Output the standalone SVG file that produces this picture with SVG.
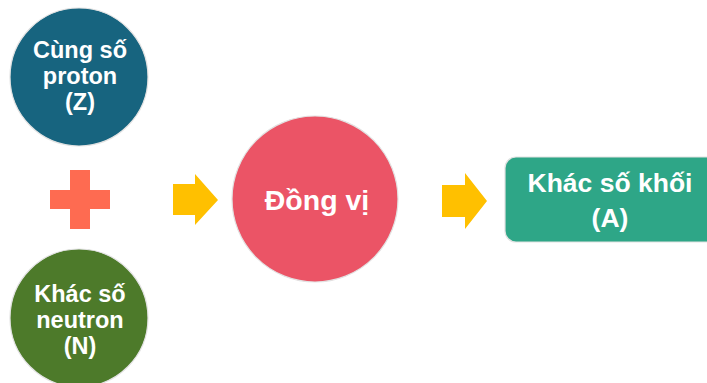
<svg xmlns="http://www.w3.org/2000/svg" width="707" height="383" viewBox="0 0 707 383">
  <style>
    .lbl { font-family: "Liberation Sans", Arial, sans-serif; font-weight: bold; fill: #ffffff; text-anchor: middle; }
    .edge { stroke: #e2e2e2; stroke-width: 1.2; }
    .arrow { fill: #ffc000; }
  </style>
  <rect width="707" height="383" fill="#ffffff"/>

  <g id="proton">
    <circle class="edge" cx="79" cy="77" r="69" fill="#17647f"/>
    <text class="lbl" x="80" y="58" font-size="23.5">Cùng số</text>
    <text class="lbl" x="80" y="84" font-size="23.5">proton</text>
    <text class="lbl" x="80" y="110" font-size="23.5">(Z)</text>
  </g>

  <g id="plus">
    <path d="M70 170 H90 V190 H110 V209 H90 V229 H70 V209 H50 V190 H70 Z" fill="#fe6b51"/>
  </g>

  <g id="neutron">
    <circle class="edge" cx="79" cy="318" r="69" fill="#4d7a2a"/>
    <text class="lbl" x="80" y="302" font-size="23.5">Khác số</text>
    <text class="lbl" x="80" y="328" font-size="23.5">neutron</text>
    <text class="lbl" x="80" y="354" font-size="23.5">(N)</text>
  </g>

  <g id="connectors">
    <path class="arrow" d="M173 184 H195 V174 L218 200 L195 225 V215 H173 Z"/>
    <path class="arrow" d="M442 185 H465 V173 L487 201 L465 229 V217 H442 Z"/>
  </g>

  <g id="dongvi">
    <circle class="edge" cx="315" cy="199" r="83" fill="#eb5466"/>
    <text class="lbl" x="317" y="210" font-size="28.5">Đồng vị</text>
  </g>

  <g id="khoi">
    <rect class="edge" x="505" y="157" width="215" height="85" rx="11" fill="#2ea687"/>
    <text class="lbl" x="610" y="192" font-size="26.5">Khác số khối</text>
    <text class="lbl" x="610" y="227" font-size="26.5">(A)</text>
  </g>
</svg>
